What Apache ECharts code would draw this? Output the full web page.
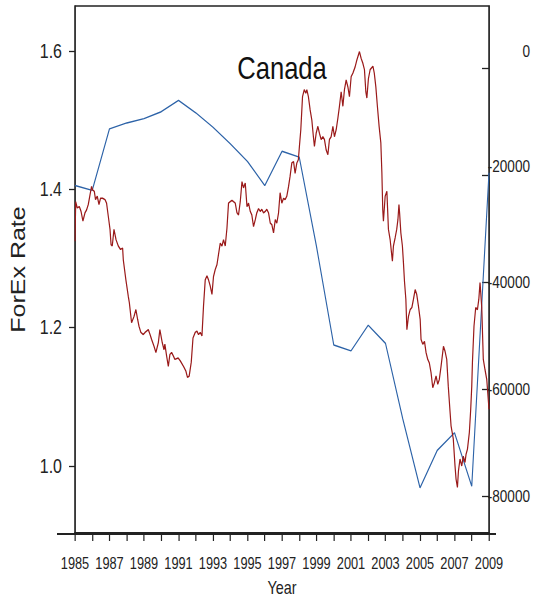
<!DOCTYPE html>
<html>
<head>
<meta charset="utf-8">
<title>Canada</title>
<script src="https://cdn.jsdelivr.net/npm/echarts@6/dist/echarts.min.js"></script>
<style>
  html, body { margin: 0; padding: 0; background: #ffffff; overflow: hidden; }
  #frame { width: 534px; height: 601px; overflow: hidden; position: relative; }
  /* the chart is laid out wide and squeezed horizontally, giving narrow lettering */
  #chart { width: 668px; height: 601px; transform: scaleX(0.7994); transform-origin: 0 0; }
</style>
</head>
<body>
<div id="frame"><div id="chart"></div></div>
<script>
// CAD per USD exchange rate, roughly monthly: [year, rate]
const forexRate = [
  [1985.00,1.325],[1985.04,1.382],[1985.13,1.373],[1985.25,1.375],[1985.35,1.368],[1985.46,1.354],
  [1985.58,1.366],[1985.67,1.370],[1985.77,1.378],[1985.87,1.392],[1985.96,1.404],[1986.02,1.399],
  [1986.12,1.397],[1986.19,1.385],[1986.29,1.390],[1986.39,1.378],[1986.48,1.387],[1986.60,1.387],
  [1986.74,1.385],[1986.83,1.380],[1986.93,1.361],[1987.03,1.342],[1987.09,1.320],[1987.16,1.318],
  [1987.26,1.342],[1987.38,1.327],[1987.51,1.318],[1987.64,1.313],[1987.76,1.315],[1987.80,1.298],
  [1987.95,1.269],[1988.09,1.245],[1988.15,1.236],[1988.28,1.207],[1988.42,1.216],[1988.53,1.226],
  [1988.63,1.212],[1988.71,1.202],[1988.82,1.193],[1988.96,1.190],[1989.06,1.193],[1989.15,1.195],
  [1989.25,1.197],[1989.35,1.190],[1989.44,1.183],[1989.58,1.173],[1989.69,1.164],[1989.83,1.178],
  [1989.92,1.197],[1990.06,1.178],[1990.16,1.168],[1990.21,1.176],[1990.31,1.159],[1990.41,1.144],
  [1990.50,1.161],[1990.60,1.164],[1990.70,1.159],[1990.79,1.154],[1990.98,1.156],[1991.10,1.152],
  [1991.29,1.144],[1991.43,1.137],[1991.52,1.128],[1991.62,1.130],[1991.74,1.150],[1991.84,1.185],
  [1991.97,1.193],[1992.07,1.195],[1992.16,1.190],[1992.26,1.193],[1992.36,1.188],[1992.45,1.231],
  [1992.55,1.269],[1992.65,1.275],[1992.74,1.269],[1992.84,1.260],[1992.94,1.248],[1993.03,1.274],
  [1993.13,1.284],[1993.23,1.291],[1993.32,1.306],[1993.42,1.322],[1993.52,1.318],[1993.61,1.327],
  [1993.71,1.318],[1993.81,1.344],[1993.90,1.380],[1994.00,1.382],[1994.10,1.384],[1994.19,1.382],
  [1994.29,1.380],[1994.39,1.366],[1994.48,1.363],[1994.58,1.382],[1994.68,1.411],[1994.77,1.402],
  [1994.87,1.409],[1994.97,1.375],[1995.06,1.380],[1995.16,1.368],[1995.25,1.363],[1995.35,1.346],
  [1995.45,1.356],[1995.54,1.366],[1995.64,1.372],[1995.74,1.368],[1995.83,1.371],[1995.93,1.366],
  [1996.03,1.368],[1996.12,1.371],[1996.22,1.366],[1996.32,1.351],[1996.41,1.349],[1996.51,1.337],
  [1996.61,1.356],[1996.70,1.351],[1996.80,1.366],[1996.89,1.395],[1996.99,1.380],[1997.09,1.387],
  [1997.18,1.385],[1997.28,1.390],[1997.38,1.404],[1997.47,1.419],[1997.57,1.438],[1997.67,1.440],
  [1997.76,1.423],[1997.86,1.438],[1997.95,1.443],[1998.01,1.462],[1998.09,1.486],[1998.19,1.534],
  [1998.29,1.544],[1998.38,1.539],[1998.44,1.544],[1998.53,1.534],[1998.63,1.515],[1998.73,1.500],
  [1998.82,1.476],[1998.88,1.462],[1998.98,1.481],[1999.08,1.491],[1999.17,1.481],[1999.27,1.472],
  [1999.37,1.476],[1999.46,1.472],[1999.56,1.457],[1999.66,1.450],[1999.75,1.472],[1999.85,1.476],
  [1999.95,1.491],[2000.04,1.476],[2000.14,1.486],[2000.24,1.503],[2000.33,1.520],[2000.43,1.541],
  [2000.53,1.520],[2000.62,1.544],[2000.72,1.558],[2000.82,1.548],[2000.91,1.534],[2001.01,1.563],
  [2001.11,1.568],[2001.24,1.577],[2001.34,1.587],[2001.49,1.599],[2001.59,1.589],[2001.69,1.582],
  [2001.78,1.573],[2001.86,1.541],[2001.92,1.532],[2002.01,1.560],[2002.11,1.573],[2002.27,1.578],
  [2002.35,1.568],[2002.44,1.548],[2002.53,1.520],[2002.63,1.491],[2002.73,1.467],[2002.79,1.424],
  [2002.84,1.371],[2002.88,1.354],[2002.98,1.390],[2003.08,1.397],[2003.17,1.342],[2003.27,1.327],
  [2003.37,1.303],[2003.40,1.296],[2003.46,1.318],[2003.56,1.330],[2003.65,1.342],[2003.72,1.356],
  [2003.78,1.378],[2003.82,1.365],[2003.89,1.337],[2003.98,1.318],[2004.04,1.294],[2004.10,1.267],
  [2004.18,1.241],[2004.24,1.197],[2004.33,1.216],[2004.43,1.226],[2004.53,1.229],[2004.62,1.241],
  [2004.72,1.255],[2004.81,1.248],[2004.91,1.231],[2005.01,1.212],[2005.06,1.183],[2005.16,1.176],
  [2005.26,1.180],[2005.35,1.164],[2005.45,1.154],[2005.54,1.149],[2005.64,1.135],[2005.74,1.113],
  [2005.83,1.120],[2005.93,1.130],[2006.03,1.118],[2006.12,1.125],[2006.22,1.144],[2006.36,1.173],
  [2006.45,1.166],[2006.55,1.154],[2006.64,1.115],[2006.74,1.079],[2006.80,1.058],[2006.93,1.039],
  [2007.03,1.000],[2007.09,0.981],[2007.17,0.969],[2007.23,0.993],[2007.32,1.010],[2007.42,1.000],
  [2007.51,1.014],[2007.61,1.005],[2007.67,1.017],[2007.75,1.024],[2007.86,1.048],[2007.94,1.082],
  [2008.00,1.115],[2008.04,1.150],[2008.13,1.202],[2008.23,1.229],[2008.33,1.226],[2008.41,1.241],
  [2008.48,1.265],[2008.58,1.229],[2008.67,1.154],[2008.77,1.139],[2008.87,1.125],[2009.00,1.082]
];

// Annual series plotted on the right axis
const balanceYears = [1985, 1986, 1987, 1988, 1989, 1990, 1991, 1992, 1993, 1994, 1995, 1996,
                      1997, 1998, 1999, 2000, 2001, 2002, 2003, 2004, 2005, 2006, 2007, 2008, 2009];
const balanceValues = [-21900, -22800, -11300, -10200, -9400, -8100, -6000, -8300, -11000, -14100,
                       -17400, -21900, -15500, -16600, -33300, -51700, -52800, -48000, -51400,
                       -65500, -78400, -71400, -68100, -78100, -19500];

// Axis ranges and tick labels
const yearRange = [1985, 2009];
const rateRange = [0.903, 1.665];
const rateTicks = [1.0, 1.2, 1.4, 1.6];
const balanceRange = [-86850, 11660];
const balanceTicks = [0, -20000, -40000, -60000, -80000];

// horizontal squeeze applied to the chart element (see CSS)
const SX = 0.7994;
const px = v => v / SX;   // screen x distance -> chart x distance

const font = "'Liberation Sans', Arial, sans-serif";
const ink = '#222222';

const chart = echarts.init(document.getElementById('chart'), null, { renderer: 'svg' });

chart.setOption({
  animation: false,
  backgroundColor: '#ffffff',
  title: {
    text: 'Canada',
    left: px(278),
    top: 47,
    textAlign: 'center',
    textStyle: { fontFamily: font, fontSize: 32, fontWeight: 'normal', color: '#111111' }
  },
  grid: {
    left: px(75), right: px(45), top: 6, bottom: 67,
    show: true, borderColor: ink, borderWidth: 1.5, backgroundColor: 'transparent'
  },
  xAxis: {
    type: 'value',
    min: yearRange[0], max: yearRange[1], interval: 1,
    name: 'Year',
    nameLocation: 'middle',
    nameGap: 45,
    nameTextStyle: { fontFamily: font, fontSize: 18, color: ink },
    axisLine: { show: true, onZero: false, lineStyle: { color: ink, width: 2 } },
    axisTick: { show: true, length: 8, lineStyle: { color: ink, width: 1.5 } },
    axisLabel: {
      fontFamily: font, fontSize: 16, color: ink, margin: 22,
      formatter: v => (v % 2 === 1 ? String(v) : '')
    },
    splitLine: { show: false }
  },
  yAxis: [
    {
      type: 'value',
      position: 'left',
      min: rateRange[0], max: rateRange[1],
      name: 'ForEx Rate',
      nameLocation: 'middle',
      nameRotate: 90,
      nameGap: px(47),
      nameTextStyle: { fontFamily: font, fontSize: 25, color: ink },
      axisLine: { show: true, onZero: false, lineStyle: { color: ink, width: 1.5 } },
      axisTick: { show: true, length: px(6), customValues: rateTicks, lineStyle: { color: ink, width: 1.3 } },
      axisLabel: {
        fontFamily: font, fontSize: 20, color: ink, margin: px(13),
        customValues: rateTicks,
        formatter: v => v.toFixed(1)
      },
      splitLine: { show: false }
    },
    {
      type: 'value',
      position: 'right',
      min: balanceRange[0], max: balanceRange[1],
      axisLine: { show: true, onZero: false, lineStyle: { color: ink, width: 1.5 } },
      axisTick: { show: true, inside: true, length: px(7), customValues: balanceTicks, lineStyle: { color: ink, width: 1.3 } },
      axisLabel: {
        fontFamily: font, fontSize: 17, color: ink, margin: px(41), align: 'right',
        customValues: balanceTicks,
        formatter: v => (v === 0 ? '{hi|0}' : v === -20000 ? '{mid|' + v + '}' : String(v)),
        rich: {
          hi: { fontFamily: font, fontSize: 17, color: ink, padding: [0, 0, 34, 0] },
          mid: { fontFamily: font, fontSize: 17, color: ink, padding: [0, 0, 18, 0] }
        }
      },
      splitLine: { show: false }
    }
  ],
  graphic: [
    // baseline runs a little past both sides of the frame
    { type: 'line', shape: { x1: px(57), y1: 534, x2: px(496), y2: 534 }, style: { stroke: ink, lineWidth: 2 }, silent: true }
  ],
  series: [
    {
      name: 'ForEx Rate',
      type: 'line',
      yAxisIndex: 0,
      data: forexRate,
      showSymbol: false,
      lineStyle: { color: '#9a1a1a', width: 1.5 },
      z: 3
    },
    {
      name: 'Balance',
      type: 'line',
      yAxisIndex: 1,
      data: balanceYears.map((y, i) => [y, balanceValues[i]]),
      showSymbol: false,
      lineStyle: { color: '#2d63a8', width: 1.4 },
      z: 2
    }
  ]
});
</script>
</body>
</html>
